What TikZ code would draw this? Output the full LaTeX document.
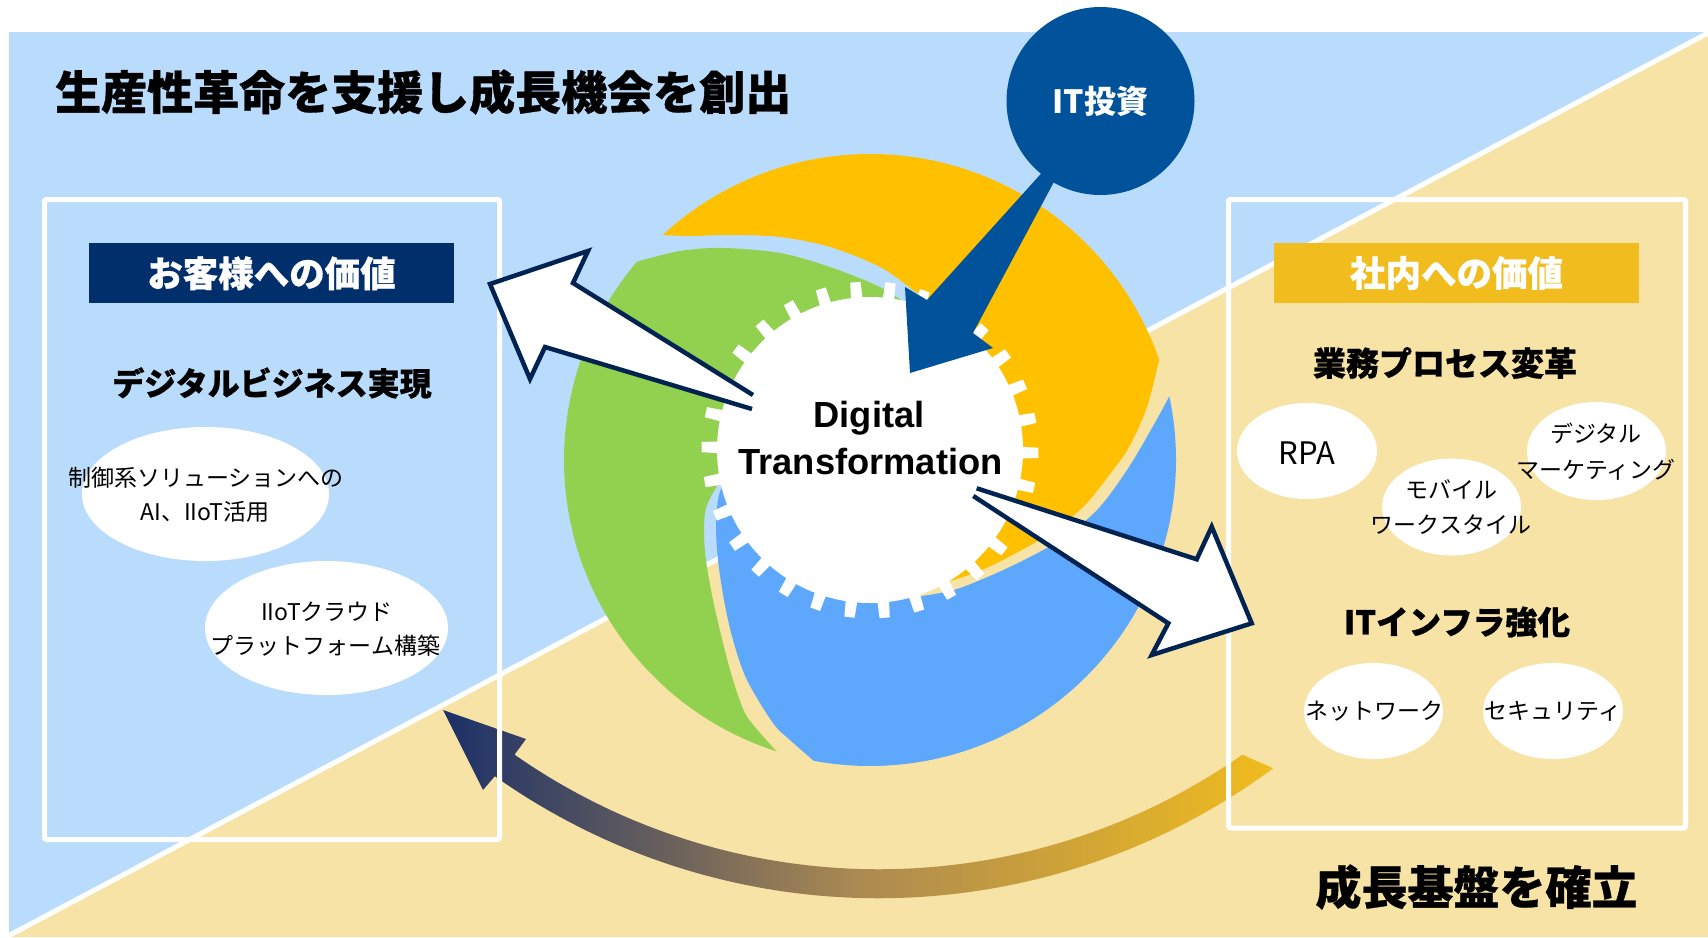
\documentclass[tikz,border=0pt]{standalone}
\usepackage{fontspec}
\setmainfont{Liberation Sans}
\newfontfamily\jp{Noto Sans CJK JP}
\newfontfamily\jpblackfam{Noto Sans CJK JP}[BoldFeatures={FakeBold=0.7}]
\newcommand\jpheavy{\jpblackfam\bfseries}
\usetikzlibrary{calc,shapes.geometric}

\definecolor{skyback}{RGB}{186,220,252}
\definecolor{sandback}{RGB}{248,227,166}
\definecolor{navyhead}{RGB}{0,47,108}
\definecolor{goldhead}{RGB}{240,188,30}
\definecolor{swirlyellow}{RGB}{255,192,0}
\definecolor{swirlgreen}{RGB}{146,208,80}
\definecolor{swirlblue}{RGB}{93,167,252}
\definecolor{investblue}{RGB}{0,82,155}
\definecolor{outlinenavy}{RGB}{0,35,82}
\definecolor{sweepdark}{RGB}{27,48,104}
\definecolor{sweepmid}{RGB}{172,138,82}
\definecolor{sweepgold}{RGB}{240,188,30}

\tikzset{
  frame/.style={draw=white, line width=5pt, rounded corners=2pt},
  headbar/.style={inner sep=0, minimum width=365pt, minimum height=60pt, text=white,
    font=\jpheavy\fontsize{35.5}{40}\selectfont},
  topic/.style={inner sep=0, font=\jpheavy\fontsize{33}{38}\selectfont},
  bigtopic/.style={inner sep=0, font=\jpheavy\fontsize{46}{52}\selectfont},
  bubble/.style={ellipse, fill=white, inner sep=0},
  bubtext/.style={inner sep=0, font=\jp\fontsize{23}{26}\selectfont},
  dxtext/.style={anchor=base, inner sep=0, font=\bfseries\fontsize{36.3}{40}\selectfont},
  outline/.style={draw=outlinenavy, line width=4.5pt, line join=miter},
  smoothline/.style={smooth, tension=0.55},
}

\begin{document}
\begin{tikzpicture}[x=1pt, y=-1pt]
\useasboundingbox (0,0) rectangle (1708,937);
\fill[white] (0,0) rectangle (1708,937);

% two-tone background split by a white diagonal
\fill[skyback] (9,32) rectangle (1708,937);
\fill[sandback] (6.2,937) -- (1708,33) -- (1708,937) -- cycle;
\draw[white, line width=5pt] (6.2,937) -- (1708,33);

% curved return arrow with a colour sweep
\coordinate (sweepC) at (878.5,234.3);
\coordinate (sweepTip) at (443,710);
\shade[left color=sweepdark, right color=sweepgold, middle color=sweepmid]
  ($(sweepC)+(55.04:635)$) arc[start angle=55.04, end angle=124.97, radius=635]
  -- (526,739) -- (sweepTip) -- (483,790) -- ($(sweepC)+(125.3:664)$)
  arc[start angle=125.3, end angle=53.53, radius=664] -- cycle;

% title
\node[anchor=west, bigtopic] (title) at (55,92) {生産性革命を支援し成長機会を創出};

% left panel
\draw[frame] (44.5,199.5) rectangle (499.5,839.5);
\node[headbar, fill=navyhead] (custhead) at (271.5,273.3) {お客様への価値};
\node[topic, font=\jpheavy\fontsize{32}{36}\selectfont] (dbiz) at (272,383) {デジタルビジネス実現};
\node[bubble, minimum width=247, minimum height=134] (ctl) at (205.5,494) {};
\node[bubtext] (ctlA) at (206,478) {制御系ソリューションへの};
\node[bubtext] (ctlB) at (205,512) {AI、IIoT活用};
\node[bubble, minimum width=243, minimum height=134] (cloud) at (326.5,628) {};
\node[bubtext] (cloudA) at (327,611.5) {IIoTクラウド};
\node[bubtext] (cloudB) at (325.5,646) {プラットフォーム構築};

% right panel
\draw[frame] (1228.5,199.5) rectangle (1685.5,828);
\node[headbar, fill=goldhead] (inhead) at (1456.5,273) {社内への価値};
\node[topic] (bpx) at (1445,363) {業務プロセス変革};
\node[bubble, minimum width=140, minimum height=96] (rpa) at (1307,451) {};
\node[bubtext, font=\jp\fontsize{31}{34}\selectfont] (rpaT) at (1307,453) {RPA};
\node[bubble, minimum width=139, minimum height=97] (mob) at (1451.5,507) {};
\node[bubtext] (mobA) at (1451,489) {モバイル};
\node[bubtext] (mobB) at (1451,525) {ワークスタイル};
\node[bubble, minimum width=139, minimum height=98] (mkt) at (1596.5,451) {};
\node[bubtext] (mktA) at (1596,433.5) {デジタル};
\node[bubtext] (mktB) at (1596,469.7) {マーケティング};
\node[topic, font=\jpheavy\fontsize{32.5}{36}\selectfont] (itinf) at (1457,622) {ITインフラ強化};
\node[bubble, minimum width=139, minimum height=96] (net) at (1373.5,711) {};
\node[bubtext] (netT) at (1374,711) {ネットワーク};
\node[bubble, minimum width=140, minimum height=96] (sec) at (1553,711) {};
\node[bubtext] (secT) at (1553,711) {セキュリティ};
\node[bigtopic] (base) at (1476.5,887) {成長基盤を確立};

% three swirl blades around the hub
\coordinate (O) at (870,460);
\fill[swirlyellow] ($(O)+(-132.7:306)$) arc[start angle=-132.7, end angle=-19.15, radius=306]
  -- plot[smoothline] coordinates {(1159.1,359.6) (1147,407) (1129,447) (1113,470) (1085,505) (1052,532) (1018,552) (984,569) (950,581) (925,585)}
  -- (870,450) -- (960,335)
  -- plot[smoothline] coordinates {(960,335) (945,314) (913,290) (880,267) (830,247) (780,237) (730,235) (690,236) (662.5,235.1)}
  -- cycle;
\fill[swirlgreen] ($(O)+(-139.6:306)$) arc[start angle=-139.6, end angle=-252.2, radius=306]
  -- plot[smoothline] coordinates {(776.5,751.4) (755,727) (744,711) (733,680) (724,647) (713,600) (706,560) (704,530) (707,505) (722,478)}
  -- (800,450) -- (905,303)
  -- plot[smoothline] coordinates {(905,303) (880,287) (830,267) (780,253) (723,248) (680,251) (637.0,261.7)}
  -- cycle;
\fill[swirlblue] ($(O)+(-12:306)$) arc[start angle=-12, end angle=100.6, radius=306]
  -- plot[smoothline] coordinates {(813.7,760.8) (790,740) (773,723) (747,680) (733,640) (724,600) (718,560) (716,525) (719,495) (728,475)}
  -- (860,520) -- (915,597)
  -- plot[smoothline] coordinates {(915,597) (950,591) (978,581) (1018,563) (1060,540) (1097,510) (1127,470) (1152,428) (1169.3,396.4)}
  -- cycle;

% toothed hub
\node[circle, fill=white, minimum size=306, inner sep=0] (hub) at (870,450) {};
\begin{scope}[shift={(hub.center)}]
  \foreach \a in {1,13,...,349}
    \fill[white] (\a-2.3:148) -- (\a-1.75:168.5) -- (\a+1.75:168.5) -- (\a+2.3:148) -- cycle;
\end{scope}
\node[dxtext] (dxA) at (869,427.3) {Digital};
\node[dxtext] (dxB) at (870.5,474) {Transformation};

% outlined block arrows leaving the hub
\coordinate (leftTip) at (490,284);
\fill[white] (753,395) -- (573,283) -- (588,251) -- (leftTip) -- (530,379) -- (545,347) -- (752,409) -- cycle;
\draw[outline] (753,395) -- (573,283) -- (588,251) -- (leftTip) -- (530,379) -- (545,347) -- (752,409);
\coordinate (rightTip) at (1251.7,623.3);
\fill[white] (976.7,488.3) -- (1196.7,559.3) -- (1211.7,526.7) -- (rightTip) -- (1151.7,655) -- (1168.3,623.3) -- (973.3,496) -- cycle;
\draw[outline] (976.7,488.3) -- (1196.7,559.3) -- (1211.7,526.7) -- (rightTip) -- (1151.7,655) -- (1168.3,623.3) -- (973.3,496);

% investment bubble feeding the hub
\coordinate (investTip) at (910,373);
\fill[investblue] (1066,146) -- (927,300) -- (905,287) -- (investTip) -- (993,348) -- (973,333) -- (1063,165) -- cycle;
\node[circle, fill=investblue, minimum size=188, inner sep=0, text=white,
  font=\jp\bfseries\fontsize{32}{36}\selectfont] (invest) at (1100.5,101) {IT投資};
\end{tikzpicture}
\end{document}
